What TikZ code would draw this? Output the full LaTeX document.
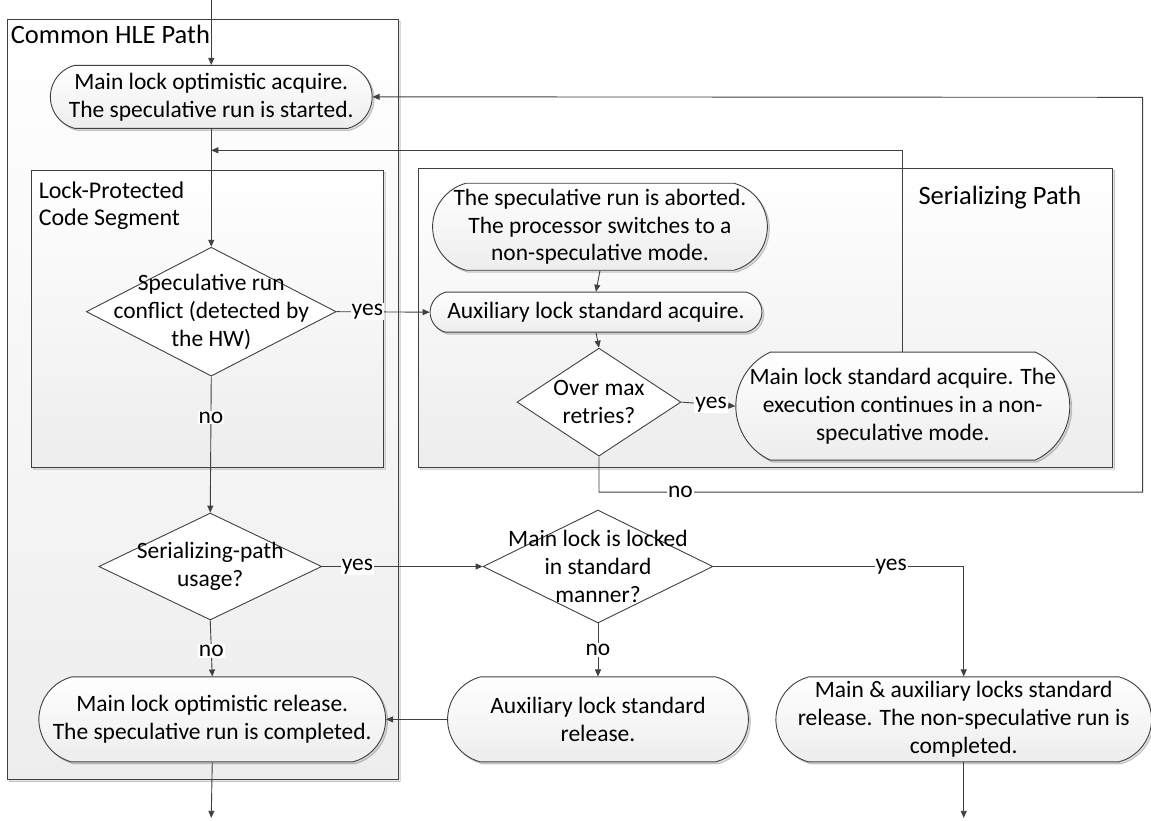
\documentclass[tikz,border=0pt]{standalone}
\usepackage{fontspec}
\setmainfont{Carlito}
\usetikzlibrary{shapes.misc,shapes.geometric,arrows.meta,shadows}
\definecolor{ln}{HTML}{404040}
\begin{document}
\begin{tikzpicture}[x=1pt,y=-1pt,
  font=\fontsize{23.5}{28}\selectfont,
  line width=0.8pt,
  every path/.style={draw=ln},
  arr/.style={-{Triangle[length=7pt,width=6pt]}, draw=ln, line width=0.9pt},
  region/.style={draw=ln, line width=0.9pt, top color=white, bottom color=gray!14, drop shadow={opacity=0.2,shadow xshift=2pt,shadow yshift=-2pt}},
  bigtitle/.style={inner sep=0pt, font=\fontsize{26.5}{30}\selectfont},
  term/.style={rounded rectangle, rounded rectangle arc length=150, draw=ln, line width=0.9pt, top color=white, bottom color=gray!14, align=center, inner sep=0pt, drop shadow={opacity=0.25,shadow xshift=2pt,shadow yshift=-2pt}},
  dia/.style={diamond, draw=ln, line width=0.9pt, inner sep=0pt, fill=white},
  dtext/.style={align=center, inner sep=0pt},
  lbl/.style={fill=white, inner sep=1pt},
]
\useasboundingbox (0,0) rectangle (1151,820);
\fill[white] (0,0) rectangle (1151,820);

% regions
\path[region] (7,19) rectangle (398,780);
\node[bigtitle, anchor=north west] (hlelbl) at (10,24) {Common HLE Path};
\path[region] (31,170) rectangle (383,467);
\node[anchor=north west, align=left, inner sep=0pt, font=\fontsize{24}{27}\selectfont] (lpcs) at (38,181) {Lock-Protected\\ Code Segment};
\path[region] (418,168) rectangle (1113,467);
\node[bigtitle, anchor=east] (serlbl) at (1082,197) {Serializing Path};

% terminal nodes
\node[term, minimum width=322pt, minimum height=63pt] (start) at (211,96.5) {Main lock optimistic acquire.\\The speculative run is started.};
\node[term, minimum width=320pt, minimum height=87pt] (abort) at (600,226.5) {The speculative run is aborted.\\The processor switches to a\\non-speculative mode.};
\node[term, minimum width=332pt, minimum height=40pt] (auxacq) at (596,312) {Auxiliary lock standard acquire.};
\node[term, rounded rectangle arc length=130, minimum width=334pt, minimum height=108pt] (mainstd) at (903,406) {Main lock standard acquire. The\\execution continues in a non-\\speculative mode.};
\node[term, minimum width=347pt, minimum height=85pt] (optrel) at (212,719.5) {Main lock optimistic release.\\The speculative run is completed.};
\node[term, minimum width=301pt, minimum height=85pt] (auxrel) at (598,719.5) {Auxiliary lock standard\\release.};
\node[term, minimum width=372pt, minimum height=85pt] (bothrel) at (964,719.5) {Main \& auxiliary locks standard\\release. The non-speculative run is\\completed.};

% diamonds
\node[dia, minimum width=250pt, minimum height=129pt] (d1) at (211,311.5) {};
\node[dtext] (d1t) at (211,311.5) {Speculative run\\conflict (detected by\\the HW)};
\node[dia, minimum width=164pt, minimum height=108pt] (d4) at (599,402) {};
\node[dtext] (d4t) at (599,402) {Over max\\retries?};
\node[dia, minimum width=223pt, minimum height=107pt] (d2) at (210,566.5) {};
\node[dtext] (d2t) at (210,566.5) {Serializing-path\\usage?};
\node[dia, minimum width=230pt, minimum height=113pt] (d3) at (598,566.5) {};
\node[dtext] (d3t) at (598,566.5) {Main lock is locked\\in standard\\manner?};

% coordinates
\coordinate (in) at (211,0);
\coordinate (merge) at (211,150);
\coordinate (outL) at (211,818);
\coordinate (outR) at (964,818);

% connectors
\draw[arr] (in) -- (start.north);
\draw[arr] (start.south) -- (d1.north);
\draw[arr] (d1.east) -- node[lbl, pos=0.33] (y1) {yes} (auxacq.west);
\draw[arr] (d1.south) -- node[lbl, pos=0.3] (n1) {no} (d2.north);
\draw[arr] (abort.south) -- (auxacq.north);
\draw[arr] (auxacq.south) -- (d4.north);
\draw[arr] (d4.east) -- node[lbl, pos=0.55] (y4) {yes} (mainstd.west);
\draw[arr] (mainstd.north) -- (mainstd.north |- merge) -- (merge);
\draw[arr] (d4.south) -- (599,492) -- node[lbl, pos=0.15] (n4) {no} (1143,492) -- (1143,97) -- (start.east);
\draw[arr] (d2.east) -- node[lbl, pos=0.22] (y2) {yes} (d3.west);
\draw[arr] (d2.south) -- node[lbl, pos=0.55] (n2) {no} (optrel.north);
\draw[arr] (d3.east) -- node[lbl, pos=0.71] (y3) {yes} (d3.east -| bothrel.north) -- (bothrel.north);
\draw[arr] (d3.south) -- node[lbl, pos=0.5] (n3) {no} (auxrel.north);
\draw[arr] (auxrel.west) -- (optrel.east);
\draw[arr] (optrel.south) -- (outL);
\draw[arr] (bothrel.south) -- (outR);
\end{tikzpicture}
\end{document}
